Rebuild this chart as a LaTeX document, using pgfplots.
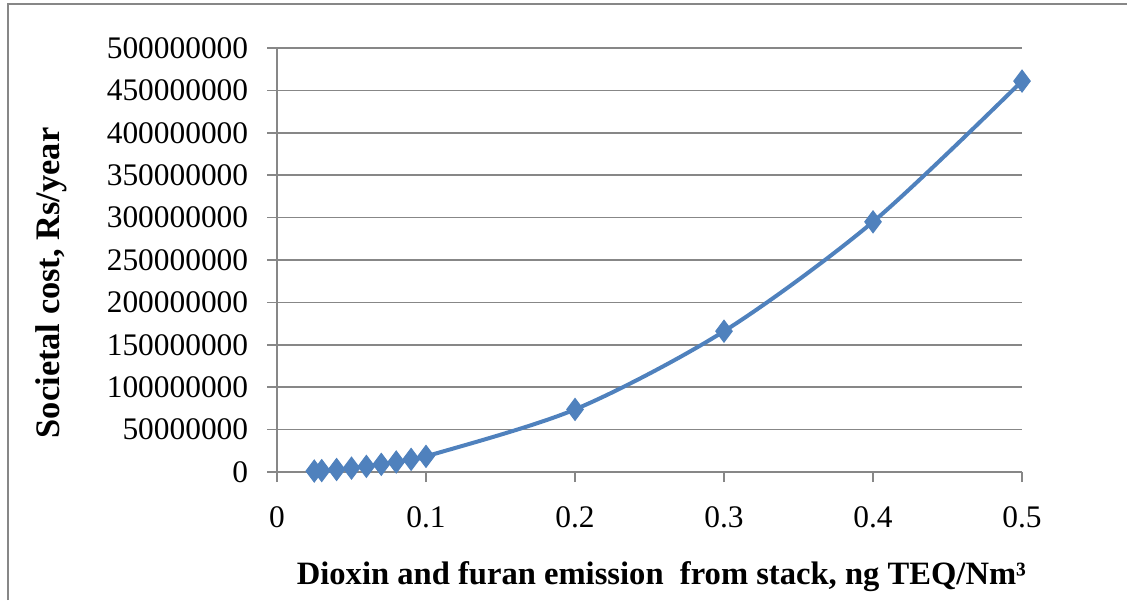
\documentclass[border=0pt]{standalone}
\usepackage{fontspec}
\setmainfont{Liberation Serif}
\usepackage{pgfplots}
\pgfplotsset{compat=1.18}
\definecolor{xlblue}{HTML}{4F81BD}
\definecolor{gridgray}{HTML}{878787}
\begin{document}
\begin{tikzpicture}
\fontsize{15.7}{18}\selectfont
\path[use as bounding box] (0,0) rectangle (563.5pt,300pt);
\draw[gridgray, line width=1pt] (4pt,0) -- (4pt,298pt) -- (563.5pt,298pt);
\begin{axis}[
  at={(138.5pt,64pt)}, anchor=origin,
  scale only axis, width=372.5pt, height=212pt,
  xmin=0, xmax=0.5, ymin=0, ymax=500000000,
  axis x line=bottom, axis y line=left,
  hide obscured x ticks=false, hide obscured y ticks=false,
  axis line style={gridgray, line width=0.75pt, -},
  xtick={0,0.1,0.2,0.3,0.4,0.5},
  xticklabels={0,0.1,0.2,0.3,0.4,0.5},
  ytick={0,50000000,100000000,150000000,200000000,250000000,300000000,350000000,400000000,450000000,500000000},
  yticklabels={0,50000000,100000000,150000000,200000000,250000000,300000000,350000000,400000000,450000000,500000000},
  scaled y ticks=false,
  tick align=outside, major tick length=5pt,
  tick style={gridgray, line width=0.75pt},
  ymajorgrids, grid style={gridgray, line width=0.75pt},
  ticklabel style={font=\fontsize{15.7}{18}\selectfont},
  xticklabel style={yshift=-7pt},
  yticklabel style={xshift=-4pt},
  xlabel={\textbf{Dioxin and furan emission\ \ from stack, ng TEQ/Nm³}},
  ylabel={\textbf{Societal cost, Rs/year}},
  xlabel style={font=\fontsize{16.3}{19}\selectfont, at={(axis description cs:0.516,0)}, anchor=center, yshift=-52.5pt},
  ylabel style={font=\fontsize{17.2}{20}\selectfont, at={(axis description cs:-0.303,0.446)}, anchor=center, rotate=0},
  clip=false,
]
\addplot[xlblue, line width=2pt, smooth, mark=diamond*, mark size=5.5pt, mark options={fill=xlblue, draw=xlblue, line width=0.5pt}]
coordinates {
(0.025,1150000) (0.03,1660000) (0.04,2950000) (0.05,4610000) (0.06,6640000)
(0.07,9040000) (0.08,11800000) (0.09,14900000) (0.1,18400000) (0.2,73800000)
(0.3,166000000) (0.4,295000000) (0.5,461000000)
};
\end{axis}
\end{tikzpicture}
\end{document}
